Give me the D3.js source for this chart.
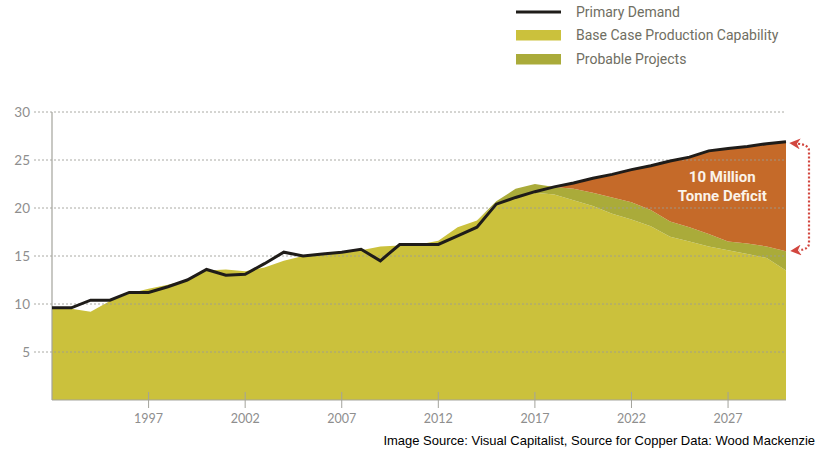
<!DOCTYPE html>
<html>
<head>
<meta charset="utf-8">
<script src="https://cdn.jsdelivr.net/npm/d3@7"></script>
<style>
  body { margin: 0; background: #fff; }
</style>
</head>
<body>
<svg id="chart" width="822" height="451"></svg>
<script>
// Copper supply vs demand, million tonnes per year

const years = d3.range(1992, 2031);

const demand = [
  9.6, 9.6, 10.4, 10.4, 11.2, 11.2, 11.8, 12.5, 13.6, 13.0,
  13.1, 14.2, 15.4, 15.0, 15.2, 15.4, 15.7, 14.5, 16.2, 16.2,
  16.2, 17.1, 18.0, 20.4, 21.1, 21.7, 22.2, 22.6, 23.1, 23.5,
  24.0, 24.4, 24.9, 25.3, 25.95, 26.2, 26.4, 26.7, 26.9
];

const baseCase = [
  9.5, 9.5, 9.2, 10.3, 11.1, 11.6, 12.0, 12.5, 13.5, 13.6,
  13.4, 13.8, 14.5, 15.0, 15.3, 15.4, 15.6, 16.0, 16.1, 16.2,
  16.6, 18.0, 18.7, 20.5, 21.1, 21.6, 21.4, 20.8, 20.2, 19.4,
  18.8, 18.1, 17.0, 16.5, 16.0, 15.6, 15.2, 14.8, 13.5
];

// extra output from probable projects, stacked on top of the base case
const probable = [
  0, 0, 0, 0, 0, 0, 0, 0, 0, 0,
  0, 0, 0, 0, 0, 0, 0, 0, 0, 0,
  0, 0, 0, 0.2, 0.9, 0.9, 0.8, 1.2, 1.4, 1.7,
  1.8, 1.7, 1.6, 1.5, 1.3, 0.9, 1.1, 1.2, 2.0
];

const yTicks = [5, 10, 15, 20, 25, 30];
const xTicks = [1997, 2002, 2007, 2012, 2017, 2022, 2027];
const deficitFrom = 2018;

const legendItems = [
  { label: "Primary Demand", type: "line" },
  { label: "Base Case Production Capability", type: "base" },
  { label: "Probable Projects", type: "probable" }
];

const deficitLabel = ["10 Million", "Tonne Deficit"];
const sourceNote = "Image Source: Visual Capitalist, Source for Copper Data: Wood Mackenzie";

const colors = {
  base: "#cbc13c",
  probable: "#aaab3a",
  deficit: "#c56a29",
  line: "#1f1c19",
  grid: "#9c9c96",
  axis: "#a3a39c",
  tickText: "#8e8e8e",
  legendText: "#6f6e62",
  arrow: "#d2463f"
};

const rows = years.map((year, i) => ({
  year,
  demand: demand[i],
  base: baseCase[i],
  probable: probable[i]
}));

const svg = d3.select("#chart");

const x = d3.scaleLinear().domain([1992, 2030]).range([52, 786]);
const y = d3.scaleLinear().domain([0, 30]).range([400, 112]);

const stack = d3.stack().keys(["base", "probable"]);
const series = stack(rows);

const area = d3.area()
  .x((d) => x(d.data.year))
  .y0((d) => y(d[0]))
  .y1((d) => y(d[1]));

svg.append("g")
  .selectAll("path")
  .data(series)
  .join("path")
  .attr("d", area)
  .attr("fill", (d) => colors[d.key]);

// deficit: between total supply and demand
const deficitRows = rows.filter((d) => d.year >= deficitFrom);
svg.append("path")
  .datum(deficitRows)
  .attr("fill", colors.deficit)
  .attr("d", d3.area()
    .x((d) => x(d.year))
    .y0((d) => y(d.base + d.probable))
    .y1((d) => y(Math.max(d.demand, d.base + d.probable))));

// gridlines sit on top of the fills
svg.append("g")
  .selectAll("line")
  .data(yTicks)
  .join("line")
  .attr("x1", 34)
  .attr("x2", x.range()[1])
  .attr("y1", (d) => y(d))
  .attr("y2", (d) => y(d))
  .attr("stroke", colors.grid)
  .attr("stroke-width", 1)
  .attr("stroke-dasharray", "2,2")
  .attr("opacity", 0.85);

svg.append("g")
  .selectAll("text")
  .data(yTicks)
  .join("text")
  .attr("x", 30)
  .attr("y", (d) => y(d))
  .attr("text-anchor", "end")
  .attr("dominant-baseline", "central")
  .attr("font-family", "Lato, sans-serif")
  .attr("font-size", 13.5)
  .attr("fill", colors.tickText)
  .text((d) => d);

// axes
svg.append("line")
  .attr("x1", x.range()[0]).attr("x2", x.range()[0])
  .attr("y1", y(30)).attr("y2", y(0))
  .attr("stroke", colors.axis).attr("stroke-width", 1.2);

svg.append("line")
  .attr("x1", x.range()[0]).attr("x2", x.range()[1])
  .attr("y1", y(0)).attr("y2", y(0))
  .attr("stroke", colors.axis).attr("stroke-width", 1.2);

svg.append("g")
  .selectAll("line")
  .data(xTicks)
  .join("line")
  .attr("x1", (d) => x(d)).attr("x2", (d) => x(d))
  .attr("y1", y(0) - 8).attr("y2", y(0) + 8)
  .attr("stroke", colors.axis).attr("stroke-width", 1);

svg.append("g")
  .selectAll("text")
  .data(xTicks)
  .join("text")
  .attr("x", (d) => x(d))
  .attr("y", 418)
  .attr("text-anchor", "middle")
  .attr("dominant-baseline", "central")
  .attr("font-family", "Lato, sans-serif")
  .attr("font-size", 12.5)
  .attr("fill", colors.tickText)
  .text((d) => d);

// demand line
svg.append("path")
  .datum(rows)
  .attr("fill", "none")
  .attr("stroke", colors.line)
  .attr("stroke-width", 3)
  .attr("stroke-linejoin", "miter")
  .attr("d", d3.line().x((d) => x(d.year)).y((d) => y(d.demand)));

// deficit label
const last = rows[rows.length - 1];
const labelText = svg.append("text")
  .attr("text-anchor", "middle")
  .attr("font-family", "Roboto, sans-serif")
  .attr("font-weight", 700)
  .attr("font-size", 15)
  .attr("fill", "#fbf3ea");
deficitLabel.forEach((line, i) => {
  labelText.append("tspan")
    .attr("x", x(2026.7))
    .attr("y", y(23.2) + i * 19)
    .attr("dominant-baseline", "central")
    .text(line);
});

// dotted double arrow spanning the 2030 gap
svg.append("defs").append("marker")
  .attr("id", "arrowHead")
  .attr("viewBox", "0 0 10 10")
  .attr("refX", 2)
  .attr("refY", 5)
  .attr("markerWidth", 5)
  .attr("markerHeight", 5)
  .attr("markerUnits", "strokeWidth")
  .attr("orient", "auto-start-reverse")
  .append("path")
  .attr("d", "M0,0L10,5L0,10L3,5z")
  .attr("fill", colors.arrow);

const topY = y(last.demand) + 1;
const botY = y(last.base + last.probable) - 2;
const ax = x(2030);
const arrow = d3.path();
arrow.moveTo(ax + 12, topY + 1);
arrow.quadraticCurveTo(ax + 23, topY + 2, ax + 23, topY + 8);
arrow.lineTo(ax + 23, botY - 6);
arrow.quadraticCurveTo(ax + 23, botY, ax + 13, botY + 1);

svg.append("path")
  .attr("d", arrow.toString())
  .attr("fill", "none")
  .attr("stroke", colors.arrow)
  .attr("stroke-width", 2.2)
  .attr("stroke-dasharray", "2,2")
  .attr("marker-start", "url(#arrowHead)")
  .attr("marker-end", "url(#arrowHead)");

// legend
const legend = svg.append("g").attr("transform", "translate(516,0)");
legendItems.forEach((item, i) => {
  const cy = [12, 35, 59][i];
  if (item.type === "line") {
    legend.append("line")
      .attr("x1", 0).attr("x2", 45)
      .attr("y1", cy).attr("y2", cy)
      .attr("stroke", colors.line).attr("stroke-width", 3);
  } else {
    legend.append("rect")
      .attr("x", 0).attr("y", cy - 5)
      .attr("width", 45).attr("height", 10.5)
      .attr("fill", colors[item.type]);
  }
  legend.append("text")
    .attr("x", 60)
    .attr("y", cy)
    .attr("dominant-baseline", "central")
    .attr("font-family", "Roboto, sans-serif")
    .attr("font-size", 14)
    .attr("fill", colors.legendText)
    .text(item.label);
});

svg.append("text")
  .attr("x", 815)
  .attr("y", 445)
  .attr("text-anchor", "end")
  .attr("font-family", "Liberation Sans, Arial, sans-serif")
  .attr("font-size", 13)
  .attr("fill", "#000")
  .text(sourceNote);
</script>
</body>
</html>
